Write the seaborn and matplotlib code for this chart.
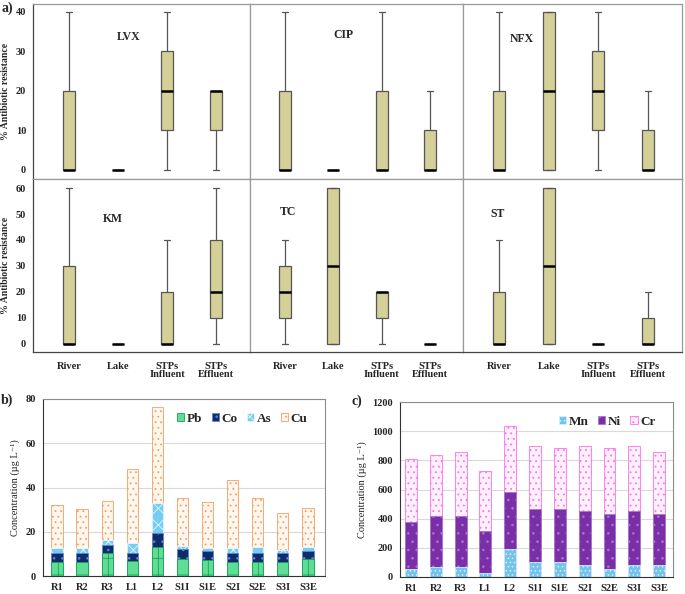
import numpy as np
import pandas as pd
import seaborn as sns
import matplotlib.pyplot as plt
from matplotlib.patches import Patch

sns.set_style('white')
plt.rcParams['font.family'] = ['Liberation Serif', 'DejaVu Serif']
plt.rcParams['hatch.linewidth'] = 0.6

# ---- panel a: five-number summaries (min, q1, median, q3, max) ----
sites = ['River', 'Lake', 'STPs\nInfluent', 'STPs\nEffluent']
drugs = ['LVX', 'CIP', 'NFX', 'KM', 'TC', 'ST']
lvx = [[0, 0, 0, 20, 40], [0, 0, 0, 0, 0], [0, 10, 20, 30, 40], [0, 10, 20, 20, 20]]
cip = [[0, 0, 0, 20, 40], [0, 0, 0, 0, 0], [0, 0, 0, 20, 40], [0, 0, 0, 10, 20]]
nfx = [[0, 0, 0, 20, 40], [0, 0, 20, 40, 40], [0, 10, 20, 30, 40], [0, 0, 0, 10, 20]]
km = [[0, 0, 0, 30, 60], [0, 0, 0, 0, 0], [0, 0, 0, 20, 40], [0, 10, 20, 40, 60]]
tc = [[0, 10, 20, 30, 40], [0, 0, 30, 60, 60], [0, 10, 20, 20, 20], [0, 0, 0, 0, 0]]
st = [[0, 0, 0, 20, 40], [0, 0, 30, 60, 60], [0, 0, 0, 0, 0], [0, 0, 0, 10, 20]]
summaries = [lvx, cip, nfx, km, tc, st]

# ---- panels b, c: stacked concentrations ----
stations = ['R1', 'R2', 'R3', 'L1', 'L2', 'S1I', 'S1E', 'S2I', 'S2E', 'S3I', 'S3E']
pb = [6.5, 6.5, 10.5, 6.8, 13.0, 7.5, 7.3, 6.3, 6.5, 6.5, 7.8]
co = [4.0, 4.0, 3.5, 3.7, 6.5, 4.5, 4.0, 4.0, 4.0, 4.0, 3.7]
as_ = [2.0, 2.0, 2.3, 4.5, 13.5, 1.5, 1.5, 2.2, 2.5, 1.3, 1.5]
cu = [19.7, 18.0, 17.5, 33.3, 43.5, 21.7, 20.7, 31.0, 22.3, 16.5, 17.8]
mn = [55, 70, 70, 25, 195, 100, 100, 85, 55, 85, 85]
ni = [320, 350, 350, 290, 385, 365, 365, 365, 380, 365, 350]
cr = [435, 420, 435, 415, 455, 435, 420, 450, 450, 450, 420]

rows = []
for d, summ in zip(drugs, summaries):
    for s, vals in zip(sites, summ):
        for v in vals:
            rows.append((d, s, v))
df = pd.DataFrame(rows, columns=['drug', 'site', 'value'])

W, H = 685, 594
def rect(x0, y0, x1, y1):
    return [x0 / W, 1 - y1 / H, (x1 - x0) / W, (y1 - y0) / H]

fig = plt.figure(figsize=(6.85, 5.94), dpi=100)

cols = [(33, 250), (250, 463), (463, 682)]
rws = [(4, 179), (179, 352)]
label_pos = [(0.44, 0.81), (0.44, 0.82), (0.27, 0.80), (0.37, 0.77), (0.18, 0.81), (0.16, 0.80)]
frame = '#9a9a9a'

for i, d in enumerate(drugs):
    r, c = divmod(i, 3)
    ax = fig.add_axes(rect(cols[c][0], rws[r][0], cols[c][1], rws[r][1]))
    sns.boxplot(data=df[df.drug == d], x='site', y='value', order=sites, width=0.25,
                whis=(0, 100), color='#D5CF98', saturation=1, linecolor='#555555',
                linewidth=0.9, medianprops=dict(color='black', linewidth=1.8), ax=ax)
    ax.set_xlim(-0.73, 3.69)
    if r == 0:
        ax.set_ylim(-2.3, 42)
        ax.set_yticks([0, 10, 20, 30, 40])
        ax.set_xticks([])
    else:
        ax.set_ylim(-3.2, 63.5)
        ax.set_yticks([0, 10, 20, 30, 40, 50, 60])
        ax.set_xticks(range(4))
        ax.set_xticklabels(sites, fontsize=7.5, fontweight='bold', linespacing=0.95)
        ax.tick_params(axis='x', length=4, width=0.8, color='#444444', pad=3)
    ax.set_xlabel('')
    for sp in ax.spines.values():
        sp.set_color(frame)
        sp.set_linewidth(0.9)
    if c == 0:
        ax.set_ylabel('% Antibiotic resistance', fontsize=7, fontweight='bold', labelpad=4)
        ax.tick_params(axis='y', length=3, width=0.8, labelsize=7.5, pad=2)
        for t in ax.get_yticklabels():
            t.set_fontweight('bold')
        ax.spines['left'].set_color('#444444')
    else:
        ax.set_ylabel('')
        ax.tick_params(axis='y', length=2, width=0.6, labelleft=False)
    if r == 1:
        ax.spines['bottom'].set_color('#444444')
    ax.text(*label_pos[i], d, transform=ax.transAxes, ha='center', va='center',
            fontsize=8.5, fontweight='bold')

fig.text(1 / W, 1 - 8 / H, 'a)', fontsize=10, fontweight='bold', va='center')
fig.text(1 / W, 1 - 400 / H, 'b)', fontsize=10, fontweight='bold', va='center')
fig.text(352 / W, 1 - 401 / H, 'c)', fontsize=10, fontweight='bold', va='center')


def stacked(ax, layers, styles, names, ylim, yticks, xlim, barw, legend_anchor):
    cum = np.cumsum(np.array(layers, dtype=float), axis=0)
    for k in reversed(range(len(layers))):
        fc, ec, hatch = styles[k]
        sns.barplot(x=stations, y=cum[k], order=stations, width=barw, color=fc,
                    saturation=1, edgecolor=ec, hatch=hatch, linewidth=0.6,
                    errorbar=None, ax=ax)
    ax.set_ylim(*ylim)
    ax.set_yticks(yticks)
    ax.set_xlim(*xlim)
    ax.yaxis.grid(True, color='#d9d9d9', linewidth=0.8)
    ax.set_axisbelow(True)
    for sp in ax.spines.values():
        sp.set_color('#8c8c8c')
        sp.set_linewidth(0.8)
    ax.spines['left'].set_color('#333333')
    ax.spines['bottom'].set_color('#333333')
    ax.tick_params(axis='both', length=3, width=0.7, color='#555555', labelsize=7.5, pad=2)
    for t in ax.get_xticklabels() + ax.get_yticklabels():
        t.set_fontweight('bold')
    ax.set_xlabel('')
    ax.set_ylabel('Concentration (µg L⁻¹)', fontsize=7.5, labelpad=4)
    handles = [Patch(facecolor=fc, edgecolor=ec, hatch=h, linewidth=0.6, label=n)
               for (fc, ec, h), n in zip(styles, names)]
    leg = ax.legend(handles=handles, ncol=len(names), frameon=False, loc='upper right',
                    bbox_to_anchor=legend_anchor, handlelength=0.55, handleheight=0.55,
                    handletextpad=0.2, columnspacing=0.7,
                    prop={'size': 9.5, 'weight': 'bold', 'family': 'Liberation Serif'})
    return leg


axb = fig.add_axes(rect(43, 399, 325, 576))
styles_b = [('#5fdc95', '#17a552', '+'), ('#102c6a', '#5f86cc', '..'),
            ('#74cdf2', '#e6f7ff', 'xx'), ('#fff6ee', '#f4a062', '...')]
stacked(axb, [pb, co, as_, cu], styles_b, ['Pb', 'Co', 'As', 'Cu'],
        (0, 80), [0, 20, 40, 60, 80], (-0.56, 10.68), 0.45, (0.98, 0.99))

axc = fig.add_axes(rect(400, 402, 673, 577))
styles_c = [('#74c3ec', '#d7effb', '....'), ('#7a2fa8', '#a878cc', '..'),
            ('#fff0fe', '#ff70ee', '...')]
stacked(axc, [mn, ni, cr], styles_c, ['Mn', 'Ni', 'Cr'],
        (0, 1200), [0, 200, 400, 600, 800, 1000, 1200], (-0.44, 10.56), 0.48, (0.98, 0.99))

fig.savefig('out.png', dpi=100)
